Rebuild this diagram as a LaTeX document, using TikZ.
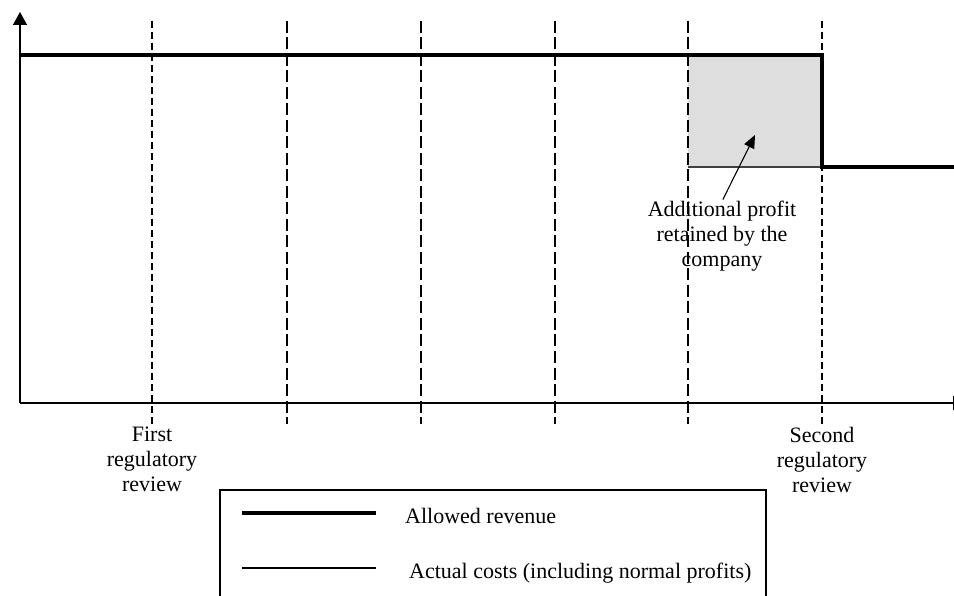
\documentclass[tikz,border=0pt]{standalone}
\usepackage{fontspec}
\setmainfont{Liberation Serif}
\usetikzlibrary{arrows.meta}
\begin{document}
\begin{tikzpicture}[x=1pt,y=-1pt,
  axis/.style={line width=1.4pt},
  revenue/.style={line width=4.3pt},
  cost/.style={line width=1.4pt},
  longdash/.style={line width=1.1pt, dash pattern=on 12pt off 4.5pt},
  shortdash/.style={line width=1.1pt, dash pattern=on 7pt off 4pt},
  lbl/.style={font=\fontsize{22}{25}\selectfont, align=center, inner sep=0pt},
  tip/.style={-{Triangle[length=13pt,width=14pt]}},
  smalltip/.style={-{Triangle[length=13pt,width=11pt]}, line width=1.1pt},
  legendbox/.style={draw, line width=1.2pt}
]
\useasboundingbox (0,0) rectangle (954,596);
\clip (0,0) rectangle (954,596);
% shaded area
\fill[black!13] (688,55) rectangle (822,167);
% dashed verticals
\coordinate (d1t) at (152,21); \coordinate (d1b) at (152,424);
\coordinate (d2t) at (287,21); \coordinate (d2b) at (287,424);
\coordinate (d3t) at (421,21); \coordinate (d3b) at (421,424);
\coordinate (d4t) at (555,21); \coordinate (d4b) at (555,424);
\coordinate (d5t) at (688,21); \coordinate (d5b) at (688,424);
\coordinate (d6t) at (822,21); \coordinate (d6b) at (822,424);
\draw[shortdash] (d1t) -- (d1b);
\draw[longdash] (d2t) -- (d2b);
\draw[longdash] (d3t) -- (d3b);
\draw[longdash] (d4t) -- (d4b);
\draw[longdash] (d5t) -- (d5b);
\draw[shortdash] (d6t) -- (d6b);
% axes
\coordinate (O) at (20,403);
\coordinate (ytop) at (20,12);
\coordinate (xend) at (966,403);
\draw[axis, tip] (O) -- (ytop);
\draw[axis, tip] (O) -- (xend);
% actual cost line (bottom of shaded area)
\coordinate (c1) at (688,167);
\coordinate (c2) at (822,167);
\draw[cost, black!75] (c1) -- (c2);
% allowed revenue
\coordinate (r0) at (20,55);
\coordinate (r1) at (822,55);
\coordinate (r2) at (822,167);
\coordinate (r3) at (960,167);
\draw[revenue, line join=miter] (r0) -- (r1) -- (r2) -- (r3);
% labels (base anchor = baseline of last line)
\node[lbl, anchor=base] (first) at (152,491) {First\\regulatory\\review};
\node[lbl, anchor=base] (second) at (822,492) {Second\\regulatory\\review};
\node[lbl, anchor=base] (profit) at (722,267) {Additional profit\\retained by the\\company};
\coordinate (ptip) at (755,135);
\draw[smalltip, shorten <=2pt] (profit.north) -- (ptip);
% legend
\coordinate (lgA) at (220,490);
\coordinate (lgB) at (766,610);
\draw[legendbox] (lgA) rectangle (lgB);
\coordinate (l1a) at (242,513); \coordinate (l1b) at (376,513);
\coordinate (l2a) at (242,568); \coordinate (l2b) at (376,568);
\draw[revenue] (l1a) -- (l1b);
\draw[cost] (l2a) -- (l2b);
\node[lbl, anchor=base west] (leg1) at (405,523) {Allowed revenue};
\node[lbl, anchor=base west] (leg2) at (409,578) {Actual costs (including normal profits)};
\end{tikzpicture}
\end{document}
